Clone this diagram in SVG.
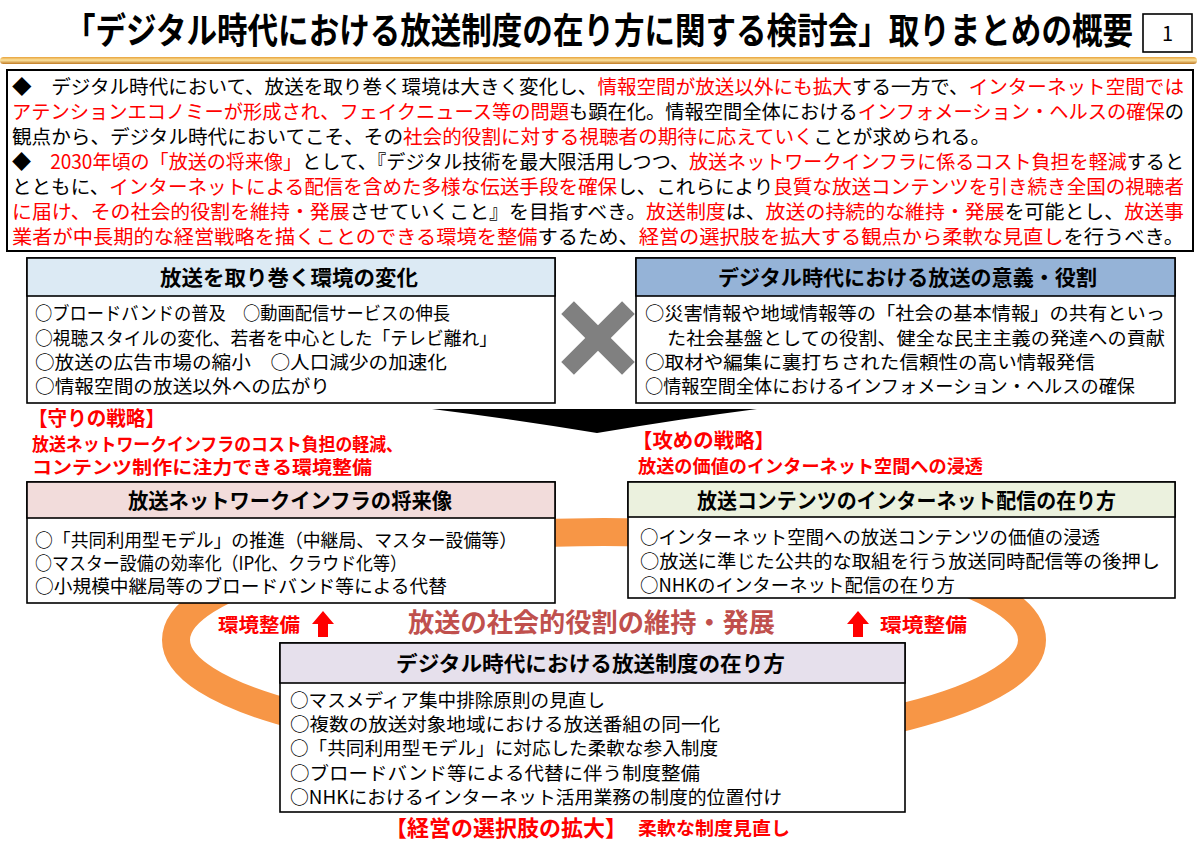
<svg xmlns="http://www.w3.org/2000/svg" width="1200" height="848" viewBox="0 0 1200 848">
<style>
text{font-family:"Noto Sans CJK JP","Noto Sans",sans-serif;fill:#000}
.title{font-size:30.5px;font-weight:700}
.top{font-size:19.5px}
.r{fill:#FF0000}
.hd{font-size:21px;font-weight:700}
.bd{font-size:18.5px}
.red{fill:#FF0000;font-weight:700}
.box{fill:#fff;stroke:#000;stroke-width:1.6}
</style>
<defs>
<linearGradient id="gold" x1="0" y1="0" x2="0" y2="1">
<stop offset="0" stop-color="#E8A23A"/>
<stop offset="0.45" stop-color="#FBE3A0"/>
<stop offset="1" stop-color="#C07A22"/>
</linearGradient>
</defs>
<rect width="1200" height="848" fill="#fff"/>

<g id="title">
<text class="title" transform="translate(65,44) scale(1,1.18)" x="0" y="0" textLength="1068" lengthAdjust="spacingAndGlyphs">「デジタル時代における放送制度の在り方に関する検討会」取りまとめの概要</text>
<rect x="1143" y="14" width="49" height="38" fill="#fff" stroke="#000" stroke-width="1.6"/>
<text x="1167.5" y="41" font-size="20" text-anchor="middle">1</text>
<rect x="0" y="57" width="1197" height="7" rx="3.5" fill="url(#gold)"/>
</g>

<g id="summary">
<rect x="7" y="70" width="1186" height="181" fill="#fff" stroke="#000" stroke-width="2"/>
<text class="top" x="12" y="94" textLength="1172" lengthAdjust="spacingAndGlyphs">◆　デジタル時代において、放送を取り巻く環境は大きく変化し、<tspan class="r">情報空間が放送以外にも拡大</tspan>する一方で、<tspan class="r">インターネット空間では</tspan></text>
<text class="top" x="12" y="119" textLength="1172" lengthAdjust="spacingAndGlyphs"><tspan class="r">アテンションエコノミーが形成され、フェイクニュース等の問題</tspan>も顕在化。情報空間全体における<tspan class="r">インフォメーション・ヘルスの確保</tspan>の</text>
<text class="top" x="12" y="144" textLength="978" lengthAdjust="spacingAndGlyphs">観点から、デジタル時代においてこそ、その<tspan class="r">社会的役割に対する視聴者の期待に応えていく</tspan>ことが求められる。</text>
<text class="top" x="12" y="169" textLength="1172" lengthAdjust="spacingAndGlyphs">◆　<tspan class="r">2030年頃の「放送の将来像」</tspan>として、『デジタル技術を最大限活用しつつ、<tspan class="r">放送ネットワークインフラに係るコスト負担を軽減</tspan>すると</text>
<text class="top" x="12" y="194" textLength="1172" lengthAdjust="spacingAndGlyphs">とともに、<tspan class="r">インターネットによる配信を含めた多様な伝送手段を確保</tspan>し、これらにより<tspan class="r">良質な放送コンテンツを引き続き全国の視聴者</tspan></text>
<text class="top" x="12" y="219" textLength="1172" lengthAdjust="spacingAndGlyphs"><tspan class="r">に届け、その社会的役割を維持・発展</tspan>させていくこと』を目指すべき。<tspan class="r">放送制度</tspan>は、<tspan class="r">放送の持続的な維持・発展</tspan>を可能とし、<tspan class="r">放送事</tspan></text>
<text class="top" x="12" y="244" textLength="1172" lengthAdjust="spacingAndGlyphs"><tspan class="r">業者が中長期的な経営戦略を描くことのできる環境を整備</tspan>するため、<tspan class="r">経営の選択肢を拡大する観点から柔軟な見直し</tspan>を行うべき。</text>
</g>

<g id="ring">
<ellipse cx="604" cy="640" rx="428" ry="108" fill="none" stroke="#F79646" stroke-width="28"/>
</g>

<g id="connectors">
<path d="M432,409 L757,409 Q680,419 597,433 Q512,419 432,409 Z" fill="#000"/>
<g fill="#808080">
<rect x="589" y="295" width="18" height="86" transform="rotate(45 598 338)"/>
<rect x="589" y="295" width="18" height="86" transform="rotate(-45 598 338)"/>
</g>
<path d="M323,611 L334,624 L328,624 L328,637 L318,637 L318,624 L312,624 Z" fill="#FF0000"/>
<path d="M858,611 L869,624 L863,624 L863,637 L853,637 L853,624 L847,624 Z" fill="#FF0000"/>
</g>

<g id="env">
<rect class="box" x="27" y="258" width="528" height="145"/>
<rect x="27" y="258" width="528" height="38" fill="#DCEAF4" stroke="#000" stroke-width="1.6"/>
<text class="hd" x="160" y="285" textLength="258" lengthAdjust="spacingAndGlyphs">放送を取り巻く環境の変化</text>
<text class="bd" x="35" y="320" textLength="415" lengthAdjust="spacingAndGlyphs">○ブロードバンドの普及　○動画配信サービスの伸長</text>
<text class="bd" x="35" y="345" textLength="462" lengthAdjust="spacingAndGlyphs">○視聴スタイルの変化、若者を中心とした「テレビ離れ」</text>
<text class="bd" x="35" y="369" textLength="412" lengthAdjust="spacingAndGlyphs">○放送の広告市場の縮小　○人口減少の加速化</text>
<text class="bd" x="35" y="393" textLength="295" lengthAdjust="spacingAndGlyphs">○情報空間の放送以外への広がり</text>
</g>

<g id="role">
<rect class="box" x="636" y="258" width="539" height="145"/>
<rect x="636" y="258" width="539" height="38" fill="#95B3D7" stroke="#000" stroke-width="1.6"/>
<text class="hd" x="718" y="285" textLength="379" lengthAdjust="spacingAndGlyphs">デジタル時代における放送の意義・役割</text>
<text class="bd" x="645" y="320" textLength="520" lengthAdjust="spacingAndGlyphs">○災害情報や地域情報等の「社会の基本情報」の共有といっ</text>
<text class="bd" x="667" y="345" textLength="498" lengthAdjust="spacingAndGlyphs">た社会基盤としての役割、健全な民主主義の発達への貢献</text>
<text class="bd" x="645" y="369" textLength="450" lengthAdjust="spacingAndGlyphs">○取材や編集に裏打ちされた信頼性の高い情報発信</text>
<text class="bd" x="645" y="393" textLength="490" lengthAdjust="spacingAndGlyphs">○情報空間全体におけるインフォメーション・ヘルスの確保</text>
</g>

<g id="defense">
<text class="red" x="28" y="426" font-size="20" textLength="137" lengthAdjust="spacingAndGlyphs">【守りの戦略】</text>
<text class="red" x="32" y="451" font-size="18" textLength="371" lengthAdjust="spacingAndGlyphs">放送ネットワークインフラのコスト負担の軽減、</text>
<text class="red" x="32" y="474" font-size="18" textLength="340" lengthAdjust="spacingAndGlyphs">コンテンツ制作に注力できる環境整備</text>
</g>

<g id="offense">
<text class="red" x="632" y="448" font-size="20" textLength="143" lengthAdjust="spacingAndGlyphs">【攻めの戦略】</text>
<text class="red" x="638" y="473" font-size="18" textLength="345" lengthAdjust="spacingAndGlyphs">放送の価値のインターネット空間への浸透</text>
</g>

<g id="infra">
<rect class="box" x="27" y="482" width="528" height="121"/>
<rect x="27" y="482" width="528" height="36" fill="#F2DCDB" stroke="#000" stroke-width="1.6"/>
<text class="hd" x="128" y="508" textLength="324" lengthAdjust="spacingAndGlyphs">放送ネットワークインフラの将来像</text>
<text class="bd" x="35" y="547" textLength="482" lengthAdjust="spacingAndGlyphs">○「共同利用型モデル」の推進（中継局、マスター設備等）</text>
<text class="bd" x="35" y="570" textLength="372" lengthAdjust="spacingAndGlyphs">○マスター設備の効率化（IP化、クラウド化等）</text>
<text class="bd" x="35" y="593" textLength="412" lengthAdjust="spacingAndGlyphs">○小規模中継局等のブロードバンド等による代替</text>
</g>

<g id="contents">
<rect class="box" x="628" y="482" width="547" height="116"/>
<rect x="628" y="482" width="547" height="35" fill="#EBF1DE" stroke="#000" stroke-width="1.6"/>
<text class="hd" x="697" y="508" textLength="419" lengthAdjust="spacingAndGlyphs">放送コンテンツのインターネット配信の在り方</text>
<text class="bd" x="640" y="544" textLength="460" lengthAdjust="spacingAndGlyphs">○インターネット空間への放送コンテンツの価値の浸透</text>
<text class="bd" x="640" y="568" textLength="520" lengthAdjust="spacingAndGlyphs">○放送に準じた公共的な取組を行う放送同時配信等の後押し</text>
<text class="bd" x="640" y="592" textLength="315" lengthAdjust="spacingAndGlyphs">○NHKのインターネット配信の在り方</text>
</g>

<g id="mid-labels">
<text class="red" x="218" y="632" font-size="19" textLength="82" lengthAdjust="spacingAndGlyphs">環境整備</text>
<text class="red" x="880" y="632" font-size="19" textLength="87" lengthAdjust="spacingAndGlyphs">環境整備</text>
<text x="408" y="632" font-size="26" font-weight="700" style="fill:#C0504D" textLength="367" lengthAdjust="spacingAndGlyphs">放送の社会的役割の維持・発展</text>
</g>

<g id="system">
<rect class="box" x="280" y="643" width="625" height="169"/>
<rect x="280" y="643" width="625" height="40" fill="#E6E0EC" stroke="#000" stroke-width="1.6"/>
<text class="hd" x="396" y="671" textLength="389" lengthAdjust="spacingAndGlyphs">デジタル時代における放送制度の在り方</text>
<text class="bd" x="290" y="707" textLength="315" lengthAdjust="spacingAndGlyphs">○マスメディア集中排除原則の見直し</text>
<text class="bd" x="290" y="731" textLength="430" lengthAdjust="spacingAndGlyphs">○複数の放送対象地域における放送番組の同一化</text>
<text class="bd" x="290" y="755" textLength="428" lengthAdjust="spacingAndGlyphs">○「共同利用型モデル」に対応した柔軟な参入制度</text>
<text class="bd" x="290" y="780" textLength="410" lengthAdjust="spacingAndGlyphs">○ブロードバンド等による代替に伴う制度整備</text>
<text class="bd" x="290" y="804" textLength="492" lengthAdjust="spacingAndGlyphs">○NHKにおけるインターネット活用業務の制度的位置付け</text>
</g>

<g id="bottom-label">
<text class="red" x="385" y="836" font-size="22" textLength="242" lengthAdjust="spacingAndGlyphs">【経営の選択肢の拡大】</text>
<text class="red" x="638" y="835" font-size="18" textLength="152" lengthAdjust="spacingAndGlyphs">柔軟な制度見直し</text>
</g>
</svg>
